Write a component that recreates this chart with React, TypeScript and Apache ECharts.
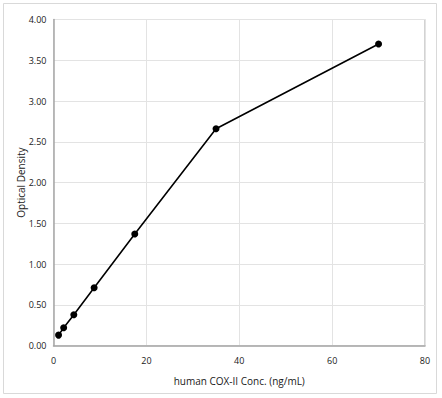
import React, { useEffect, useRef } from "react";
import * as echarts from "echarts";

const concentrations = [1.09, 2.19, 4.38, 8.75, 17.5, 35, 70];
const opticalDensity = [0.13, 0.22, 0.38, 0.71, 1.37, 2.66, 3.7];
const xAxisTitle = "human COX-II Conc. (ng/mL)";
const yAxisTitle = "Optical Density";

export default function App() {
  const ref = useRef<HTMLDivElement>(null);
  useEffect(() => {
    if (!ref.current) return;
    const chart = echarts.init(ref.current, undefined, { renderer: "svg" });
    const font = "'Open Sans', 'Liberation Sans', sans-serif";
    chart.setOption({
      animation: false,
      backgroundColor: "#ffffff",
      textStyle: { fontFamily: font },
      graphic: [
        {
          type: "rect",
          shape: { x: 3.5, y: 3.5, width: 433, height: 390 },
          style: { fill: "none", stroke: "#d9d9d9", lineWidth: 1 },
          silent: true,
        },
      ],
      grid: {
        left: 53.5,
        top: 19.5,
        right: 17,
        bottom: 52.3,
        show: true,
        borderColor: "#a6a6a6",
        borderWidth: 1,
        backgroundColor: "transparent",
      },
      xAxis: {
        type: "value",
        min: 0,
        max: 80,
        interval: 20,
        name: xAxisTitle,
        nameLocation: "middle",
        nameGap: 30,
        nameMoveOverlap: false,
        nameTextStyle: { fontSize: 10, color: "#1a1a1a", fontFamily: font },
        axisLine: { show: true, lineStyle: { color: "#a6a6a6", width: 1.5 } },
        axisTick: { show: false },
        axisLabel: { fontSize: 9, color: "#1a1a1a", margin: 10, fontFamily: font },
        splitLine: { show: true, lineStyle: { color: "#e3e3e3", width: 1 } },
      },
      yAxis: {
        type: "value",
        min: 0,
        max: 4,
        interval: 0.5,
        name: yAxisTitle,
        nameLocation: "middle",
        nameGap: 28,
        nameMoveOverlap: false,
        nameTextStyle: { fontSize: 10, color: "#1a1a1a", fontFamily: font },
        axisLine: { show: true, lineStyle: { color: "#a6a6a6", width: 1.5 } },
        axisTick: { show: false },
        axisLabel: {
          fontSize: 9,
          color: "#1a1a1a",
          margin: 7,
          fontFamily: font,
          formatter: (v: number) => v.toFixed(2),
        },
        splitLine: { show: true, lineStyle: { color: "#e3e3e3", width: 1 } },
      },
      series: [
        {
          type: "line",
          data: concentrations.map((x, i) => [x, opticalDensity[i]]),
          symbol: "circle",
          symbolSize: 7,
          lineStyle: { color: "#000000", width: 1.6 },
          itemStyle: { color: "#000000" },
        },
      ],
    });
    return () => chart.dispose();
  }, []);
  return (
    <div
      ref={ref}
      style={{ position: "absolute", left: 0, top: 0, width: 442, height: 398 }}
    />
  );
}
